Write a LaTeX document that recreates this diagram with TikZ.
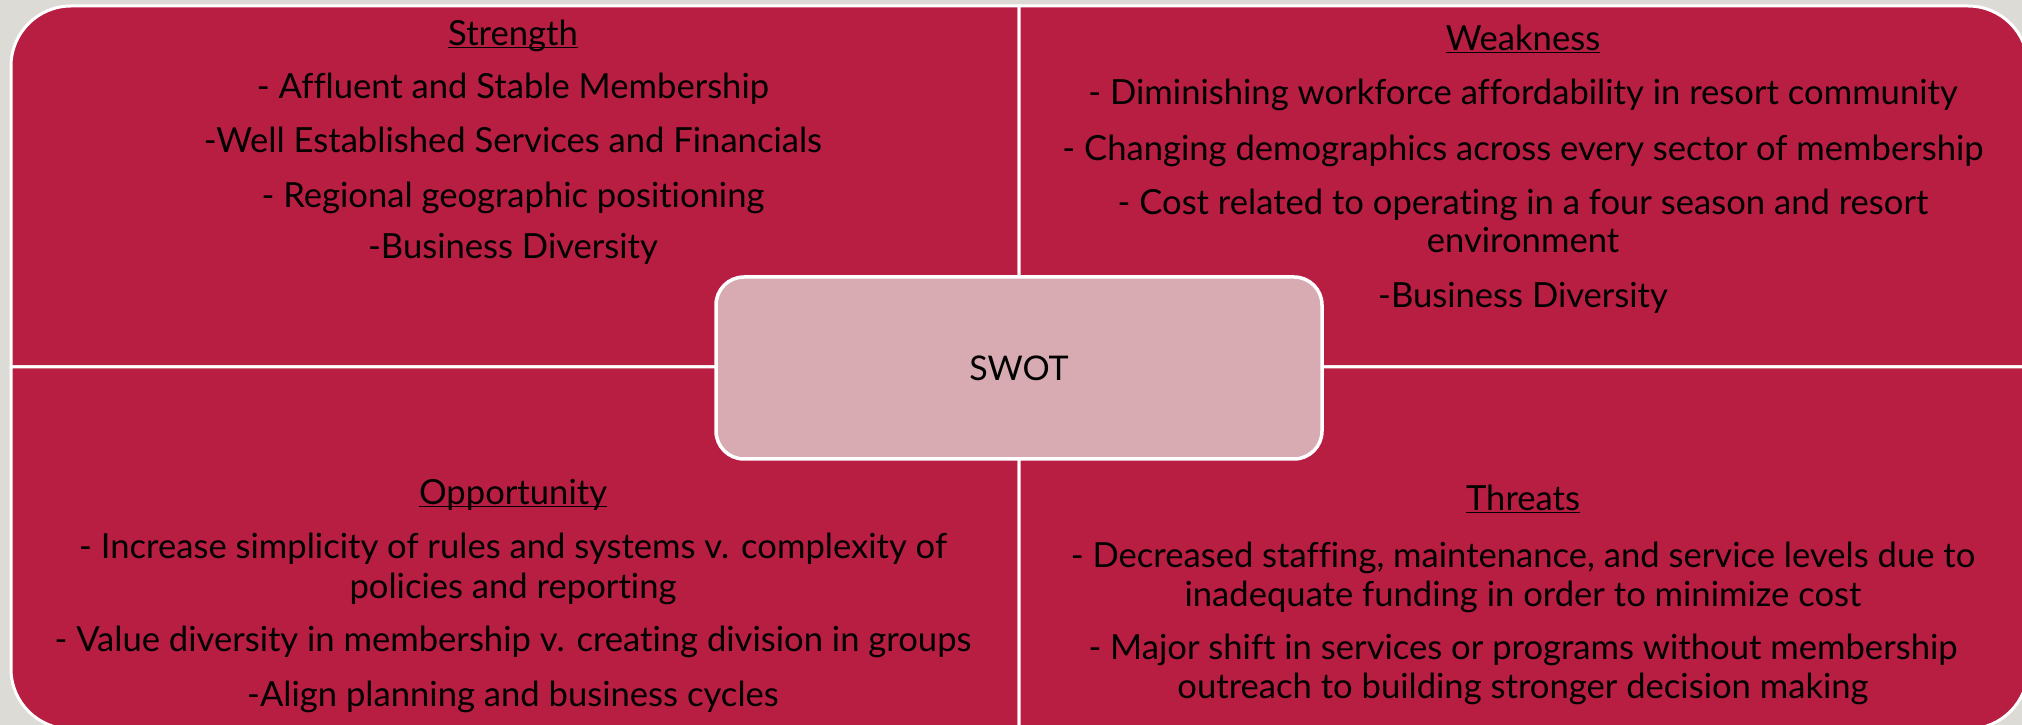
\documentclass[tikz,border=0pt]{standalone}
\usepackage{fontspec}
\setmainfont[RawFeature={-liga;-clig;-calt;-dlig}]{Lato}
\definecolor{pagegray}{RGB}{220,219,214}
\definecolor{swotred}{RGB}{183,30,66}
\definecolor{hubpink}{RGB}{216,170,177}
\newcommand{\headline}[1]{\underline{\smash{#1}}}
\begin{document}
\begin{tikzpicture}[x=1pt,y=1pt,
  quad/.style={fill=swotred, draw=white, line width=3pt},
  body/.style={font=\fontsize{34.6}{40}\selectfont, text=black, inner sep=0pt, anchor=base},
  hub/.style={fill=hubpink, draw=white, line width=3.5pt, rounded corners=28pt,
    minimum width=606pt, minimum height=182pt, font=\fontsize{34}{40}\selectfont}]
\useasboundingbox (0,0) rectangle (2022,725);
\fill[pagegray] (0,0) rectangle (2022,725);

% four quadrants, each with one rounded outer corner
\path[quad] (11,358) -- (11,659) arc[start angle=180, end angle=90, radius=60] -- (1019,719) -- (1019,358) -- cycle;
\path[quad] (1019,358) -- (1019,719) -- (1968,719) arc[start angle=90, end angle=0, radius=60] -- (2028,358) -- cycle;
\path[quad] (11,358) -- (1019,358) -- (1019,-4) -- (71,-4) arc[start angle=270, end angle=180, radius=60] -- cycle;
\path[quad] (1019,358) -- (2028,358) -- (2028,56) arc[start angle=0, end angle=-90, radius=60] -- (1019,-4) -- cycle;

% Strength
\node[body] (s0) at (513,679) {\headline{Strength}};
\node[body] (s1) at (513,626) {- Affluent and Stable Membership};
\node[body] (s2) at (513,572) {-Well Established Services and Financials};
\node[body] (s3) at (513,517) {- Regional geographic positioning};
\node[body] (s4) at (513,466) {-Business Diversity};

% Weakness
\node[body] (w0) at (1523,674) {\headline{Weakness}};
\node[body] (w1) at (1523,620) {- Diminishing workforce affordability in resort community};
\node[body] (w2) at (1523,564) {- Changing demographics across every sector of membership};
\node[body] (w3) at (1523,510) {- Cost related to operating in a four season and resort};
\node[body] (w4) at (1523,472) {environment};
\node[body] (w5) at (1523,417) {-Business Diversity};

% Opportunity
\node[body] (o0) at (513,220) {\headline{Opportunity}};
\node[body] (o1) at (513,166) {- Increase simplicity of rules and systems v. complexity of};
\node[body] (o2) at (513,126) {policies and reporting};
\node[body] (o3) at (513,73) {- Value diversity in membership v. creating division in groups};
\node[body] (o4) at (513,18) {-Align planning and business cycles};

% Threats
\node[body] (t0) at (1523,214) {\headline{Threats}};
\node[body] (t1) at (1523,157) {- Decreased staffing, maintenance, and service levels due to};
\node[body] (t2) at (1523,118) {inadequate funding in order to minimize cost};
\node[body] (t3) at (1523,65) {- Major shift in services or programs without membership};
\node[body] (t4) at (1523,26) {outreach to building stronger decision making};

% central hub
\node[hub] (swot) at (1019,357) {SWOT};
\end{tikzpicture}
\end{document}
